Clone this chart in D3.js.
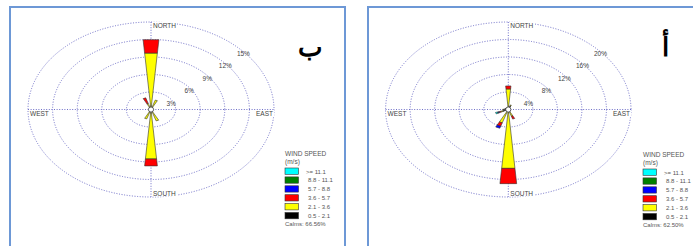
<!DOCTYPE html>
<html>
<head>
<meta charset="utf-8">
<script src="https://cdn.jsdelivr.net/npm/d3@7"></script>
<style>
  body { margin: 0; background: #fff; }
  text { font-family: "Liberation Sans", Arial, sans-serif; }
</style>
</head>
<body>
<div id="chart"></div>
<script>
// wind directions, clockwise from north
const directions = ["N", "NNE", "NE", "ENE", "E", "ESE", "SE", "SSE", "S", "SSW", "SW", "WSW", "W", "WNW", "NW", "NNW"];

// speed classes, legend order (top to bottom)
const speedLabels = [">= 11.1", "8.8 - 11.1", "5.7 - 8.8", "3.6 - 5.7", "2.1 - 3.6", "0.5 - 2.1"];
const speedColors = ["#00ffff", "#008000", "#0000ff", "#ff0000", "#ffff00", "#000000"];

// panel b (left) - frequency % per direction, per class (lowest class first)
const leftCalm = [0.3, 0.2, 0.1, 0.1, 0.1, 0.1, 0.1, 0.2, 0.3, 0.4, 0.1, 0.1, 0.1, 0.1, 0.1, 0.2];
const leftLow  = [9.4, 1.5, 0.1, 0.0, 0.1, 0.0, 0.1, 1.85, 8.2, 1.3, 0.1, 0.0, 0.1, 0.0, 0.1, 0.9];
const leftMid  = [2.3, 0.0, 0.0, 0.0, 0.0, 0.0, 0.0, 0.0, 1.2, 0.0, 0.0, 0.0, 0.0, 0.0, 0.0, 1.0];
const leftHigh = [0, 0, 0, 0, 0, 0, 0, 0, 0, 0, 0, 0, 0, 0, 0, 0];
const leftVHigh = [0, 0, 0, 0, 0, 0, 0, 0, 0, 0, 0, 0, 0, 0, 0, 0];
const leftTop  = [0, 0, 0, 0, 0, 0, 0, 0, 0, 0, 0, 0, 0, 0, 0, 0];
const leftRings = [3, 6, 9, 12, 15];

// panel a (right)
const rightCalm = [0.3, 0.9, 0.2, 0.2, 0.2, 0.2, 0.3, 0.4, 0.4, 0.4, 0.3, 1.0, 0.8, 0.6, 0.3, 0.3];
const rightLow  = [4.4, 0.2, 0.0, 0.0, 0.0, 0.0, 0.1, 1.2, 13.1, 2.8, 0.1, 0.3, 0.1, 0.0, 0.0, 0.1];
const rightMid  = [0.7, 0.0, 0.0, 0.0, 0.0, 0.0, 0.0, 0.7, 3.5, 0.8, 0.0, 0.3, 0.0, 0.0, 0.0, 0.0];
const rightHigh = [0, 0, 0, 0, 0, 0, 0, 0, 0, 0.5, 0, 0.2, 0, 0, 0, 0];
const rightVHigh = [0, 0, 0, 0, 0, 0, 0, 0, 0, 0, 0, 0.1, 0, 0, 0, 0];
const rightTop  = [0, 0, 0, 0, 0, 0, 0, 0, 0, 0, 0, 0.3, 0, 0, 0, 0];
const rightRings = [4, 8, 12, 16, 20];

const calmsText = ["Calms: 66.56%", "Calms: 62.50%"];
const panelTitles = ["ب", "أ"];

let svg = d3.select("#chart")
    .append("svg")
    .attr("width", 693)
    .attr("height", 246);

// panel frames
svg.append("rect")
    .attr("x", 10).attr("y", 7).attr("width", 335).attr("height", 260)
    .attr("fill", "none").attr("stroke", "#6d98d6").attr("stroke-width", 2);
svg.append("rect")
    .attr("x", 368).attr("y", 7).attr("width", 340).attr("height", 260)
    .attr("fill", "none").attr("stroke", "#6d98d6").attr("stroke-width", 2);

const gridColor = "#6f6fc8";
const halfWidth = 4.6 * Math.PI / 180;

function drawRose(cfg) {
    let g = svg.append("g");
    let maxPct = cfg.rings[cfg.rings.length - 1];
    let rx = d3.scaleLinear().domain([0, maxPct]).range([0, cfg.rx]);
    let ry = d3.scaleLinear().domain([0, maxPct]).range([0, cfg.ry]);

    // rings
    g.selectAll("ellipse.ring")
        .data(cfg.rings)
        .enter()
        .append("ellipse")
        .attr("cx", cfg.cx).attr("cy", cfg.cy)
        .attr("rx", d => rx(d)).attr("ry", d => ry(d))
        .attr("fill", "none")
        .attr("stroke", gridColor)
        .attr("stroke-width", 1)
        .attr("stroke-dasharray", "1,1.6");

    // cross lines
    g.append("line")
        .attr("x1", cfg.cx - cfg.rx).attr("x2", cfg.cx + cfg.rx)
        .attr("y1", cfg.cy).attr("y2", cfg.cy)
        .attr("stroke", gridColor).attr("stroke-dasharray", "1,1.6");
    g.append("line")
        .attr("x1", cfg.cx).attr("x2", cfg.cx)
        .attr("y1", cfg.cy - cfg.ry).attr("y2", cfg.cy + cfg.ry)
        .attr("stroke", gridColor).attr("stroke-dasharray", "1,1.6");

    // ring labels
    g.selectAll("text.ringlab")
        .data(cfg.rings)
        .enter()
        .append("text")
        .attr("x", d => cfg.cx + rx(d) * 0.735 + 2)
        .attr("y", d => cfg.cy - ry(d) * 0.72 + 9)
        .attr("text-anchor", "middle")
        .attr("font-size", "6.5px")
        .attr("fill", "#444")
        .text(d => d + "%");

    // wedges
    let stacked = directions.map((d, i) => {
        let series = cfg.series.map(s => s[i]);
        let segs = [];
        let acc = 0;
        series.forEach((v, k) => {
            if (v > 0) segs.push({ r0: acc, r1: acc + v, k: k, angle: i * 22.5 * Math.PI / 180 });
            acc += v;
        });
        return segs;
    }).flat();

    function pt(r, a) {
        return [cfg.cx + rx(r) * Math.sin(a), cfg.cy - ry(r) * Math.cos(a)];
    }

    g.selectAll("polygon.seg")
        .data(stacked)
        .enter()
        .append("polygon")
        .attr("points", d => [
            pt(d.r0, d.angle - halfWidth), pt(d.r1, d.angle - halfWidth),
            pt(d.r1, d.angle + halfWidth), pt(d.r0, d.angle + halfWidth)
        ].map(p => p.join(",")).join(" "))
        .attr("fill", d => speedColors[5 - d.k])
        .attr("stroke", "#333")
        .attr("stroke-width", 0.6)
        .attr("stroke-linejoin", "round");

    // center mark
    g.append("circle")
        .attr("cx", cfg.cx).attr("cy", cfg.cy).attr("r", 2.6)
        .attr("fill", "#fff").attr("stroke", "#333").attr("stroke-width", 0.8);

    // compass labels with white background
    let compass = [
        { t: "NORTH", x: cfg.cx + 2, y: cfg.cy - cfg.ry + 5.5, a: "start" },
        { t: "SOUTH", x: cfg.cx + 2, y: cfg.cy + cfg.ry - 1.5, a: "start" },
        { t: "WEST", x: cfg.cx - cfg.rx + 2, y: cfg.cy + 6.5, a: "start" },
        { t: "EAST", x: cfg.cx + cfg.rx - 1, y: cfg.cy + 6.5, a: "end" }
    ];
    compass.forEach(c => {
        let w = c.t.length * 4.6 + 2;
        let bx = c.a === "start" ? c.x - 1 : c.x - w + 1;
        g.append("rect")
            .attr("x", bx).attr("y", c.y - 6)
            .attr("width", w).attr("height", 7)
            .attr("fill", "#fff");
        g.append("text")
            .attr("x", c.x).attr("y", c.y)
            .attr("text-anchor", c.a)
            .attr("font-size", "6.5px")
            .attr("fill", "#444")
            .text(c.t);
    });

    // legend
    let lg = svg.append("g")
        .attr("transform", `translate(${cfg.lx}, ${cfg.ly})`);
    lg.append("text").attr("x", 0).attr("y", 7)
        .attr("font-size", "6.5px").attr("fill", "#555").text("WIND SPEED");
    lg.append("text").attr("x", 0).attr("y", 15)
        .attr("font-size", "6.5px").attr("fill", "#555").text("(m/s)");
    speedLabels.forEach((s, i) => {
        lg.append("rect")
            .attr("x", 0).attr("y", 19 + i * 8.9)
            .attr("width", 13.5).attr("height", 6.3)
            .attr("fill", speedColors[i])
            .attr("stroke", "#333").attr("stroke-width", 0.6);
        lg.append("text")
            .attr("x", i === 0 ? 21 : 23).attr("y", 24.5 + i * 8.9)
            .attr("font-size", "6px").attr("fill", "#555")
            .text(s);
    });
    lg.append("text").attr("x", 0).attr("y", 77)
        .attr("font-size", "6px").attr("fill", "#555").text(cfg.calms);

    // panel title
    svg.append("text")
        .attr("x", cfg.tx).attr("y", cfg.ty)
        .attr("text-anchor", "middle")
        .attr("font-family", "DejaVu Sans")
        .attr("font-weight", "bold")
        .attr("font-size", "26px")
        .attr("fill", "#000")
        .text(cfg.title);
}

drawRose({
    cx: 151, cy: 109.5, rx: 123, ry: 87.5,
    rings: leftRings,
    series: [leftCalm, leftLow, leftMid, leftHigh, leftVHigh, leftTop],
    lx: 285, ly: 149, calms: calmsText[0],
    tx: 310, ty: 56, title: panelTitles[0]
});

drawRose({
    cx: 508.3, cy: 109.5, rx: 122.7, ry: 87.5,
    rings: rightRings,
    series: [rightCalm, rightLow, rightMid, rightHigh, rightVHigh, rightTop],
    lx: 643, ly: 150, calms: calmsText[1],
    tx: 665, ty: 56, title: panelTitles[1]
});
</script>
</body>
</html>
